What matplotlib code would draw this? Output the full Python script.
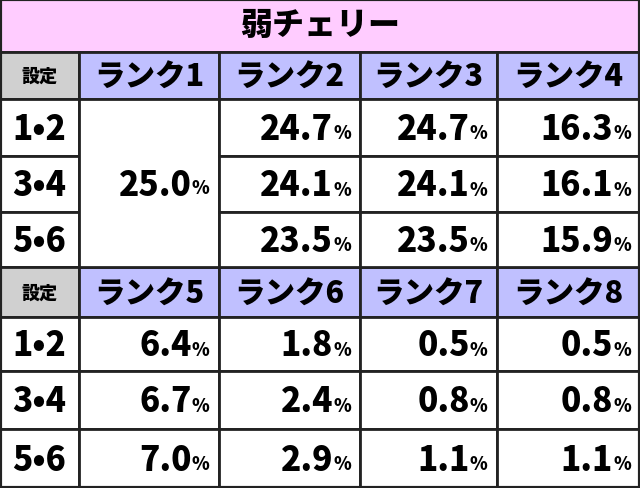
import matplotlib
matplotlib.use("Agg")
import matplotlib.pyplot as plt
from matplotlib.patches import Rectangle

plt.rcParams['font.family'] = ['Noto Sans CJK JP', 'DejaVu Sans']

title = "弱チェリー"
settings = ["1•2", "3•4", "5•6"]
ranks_top = ["ランク1", "ランク2", "ランク3", "ランク4"]
ranks_bottom = ["ランク5", "ランク6", "ランク7", "ランク8"]
rank1 = "25.0"
top_vals = [["24.7", "24.7", "16.3"],
            ["24.1", "24.1", "16.1"],
            ["23.5", "23.5", "15.9"]]
bottom_vals = [["6.4", "1.8", "0.5", "0.5"],
               ["6.7", "2.4", "0.8", "0.8"],
               ["7.0", "2.9", "1.1", "1.1"]]

W, H = 640, 489
cols = [0, 79, 219, 360, 497, 640]
title_y = (0, 53)
top_rows = [53, 100, 157, 213, 268]
bot_rows = [268, 318, 372, 430, 489]

fig = plt.figure(figsize=(6.4, 4.89), dpi=100)
ax = fig.add_axes([0, 0, 1, 1])
ax.set_xlim(0, W)
ax.set_ylim(H, 0)
ax.axis("off")

LW = 2.0
BW = "black"


def cell(x0, x1, y0, y1, color):
    ax.add_patch(Rectangle((x0, y0), x1 - x0, y1 - y0, facecolor=color,
                           edgecolor="#222222", linewidth=LW))


def pct(x1, yc, num):
    ax.text(x1 - 27, yc + 1, num, ha="right", va="center", fontsize=24,
            fontweight=BW)
    ax.text(x1 - 27, yc + 5, "%", ha="left", va="center", fontsize=13,
            fontweight=BW)


cell(0, W, *title_y, "#ffccff")
ax.text(W / 2, 25, title, ha="center", va="center", fontsize=23, fontweight=BW)

for rows, ranks in [(top_rows, ranks_top), (bot_rows, ranks_bottom)]:
    cell(cols[0], cols[1], rows[0], rows[1], "#d0d0d0")
    ax.text((cols[0] + cols[1]) / 2, (rows[0] + rows[1]) / 2, "設定",
            ha="center", va="center", fontsize=13, fontweight=BW)
    for j, r in enumerate(ranks):
        cell(cols[j + 1], cols[j + 2], rows[0], rows[1], "#c0c0ff")
        ax.text((cols[j + 1] + cols[j + 2]) / 2, (rows[0] + rows[1]) / 2 + 1, r,
                ha="center", va="center", fontsize=22, fontweight=BW)
    for i, s in enumerate(settings):
        y0, y1 = rows[i + 1], rows[i + 2]
        cell(cols[0], cols[1], y0, y1, "white")
        ax.text((cols[0] + cols[1]) / 2, (y0 + y1) / 2 + 1, s, ha="center",
                va="center", fontsize=24, fontweight=BW)

# top block: rank1 merged cell
cell(cols[1], cols[2], top_rows[1], top_rows[4], "white")
pct(cols[2], (top_rows[1] + top_rows[4]) / 2, rank1)
for i in range(3):
    y0, y1 = top_rows[i + 1], top_rows[i + 2]
    for j in range(3):
        cell(cols[j + 2], cols[j + 3], y0, y1, "white")
        pct(cols[j + 3], (y0 + y1) / 2, top_vals[i][j])

for i in range(3):
    y0, y1 = bot_rows[i + 1], bot_rows[i + 2]
    for j in range(4):
        cell(cols[j + 1], cols[j + 2], y0, y1, "white")
        pct(cols[j + 2], (y0 + y1) / 2, bottom_vals[i][j])

ax.add_patch(Rectangle((0, 0), W, H, fill=False, edgecolor="#222222", linewidth=3))

fig.savefig("out.png", dpi=100)
